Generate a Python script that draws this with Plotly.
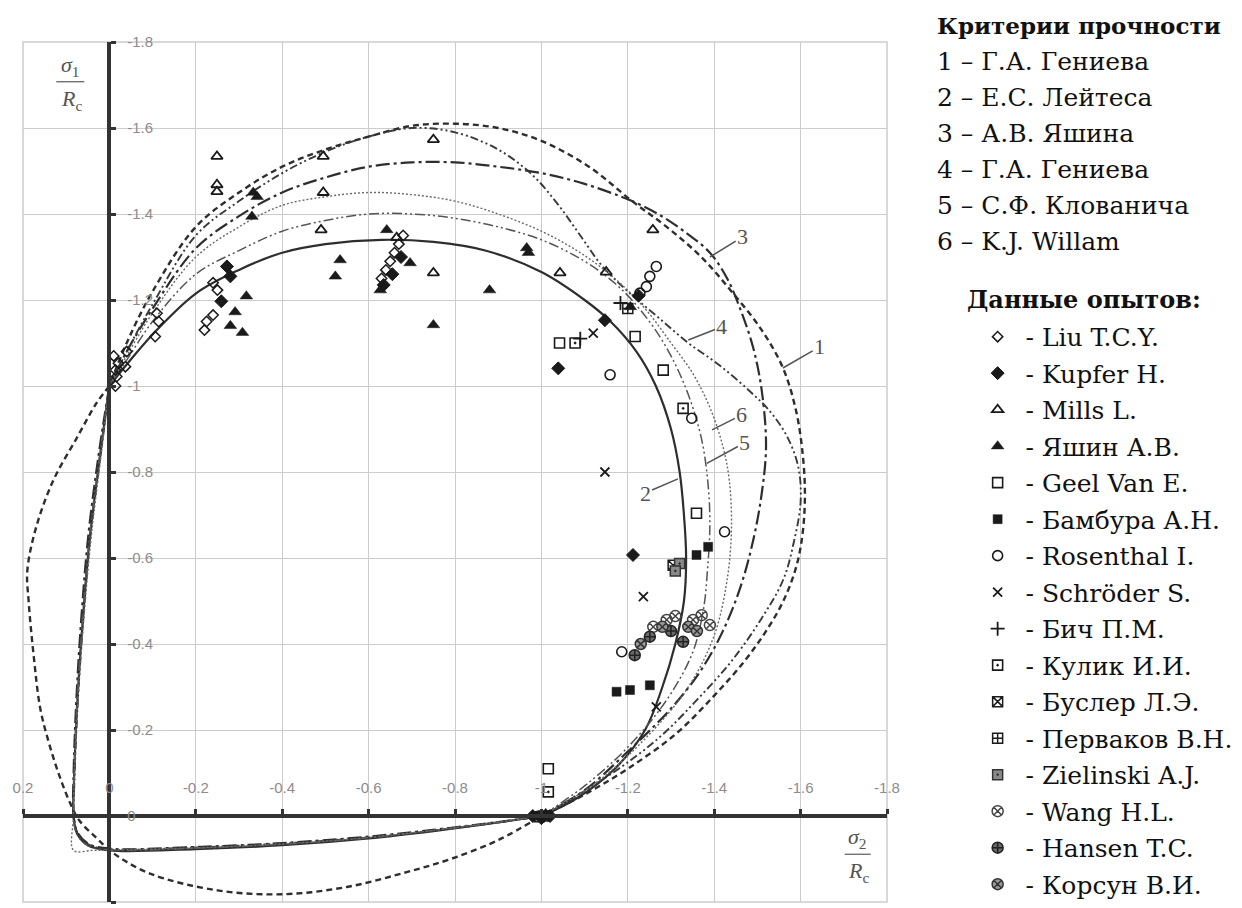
import plotly.graph_objects as go

# ---------------- axis ticks ----------------
TICK_VALS = [0.2, 0, -0.2, -0.4, -0.6, -0.8, -1.0, -1.2, -1.4, -1.6, -1.8]
TICK_TEXT = ["0.2", "0", "-0.2", "-0.4", "-0.6", "-0.8", "-1", "-1.2", "-1.4", "-1.6", "-1.8"]

# ---------------- legend texts ----------------
CRITERIA_TITLE = "Критерии прочности"
CRITERIA_NAMES = ["1 – Г.А. Гениева", "2 – Е.С. Лейтеса", "3 – А.В. Яшина",
                  "4 – Г.А. Гениева", "5 – С.Ф. Клованича", "6 – K.J. Willam"]
DATA_TITLE = "Данные опытов:"

# ---------------- strength criteria curves (sigma2/Rc, sigma1/Rc) ----------------
# curve 1 – Гениева (dashed)
C1_COMP_X = [-1.0, -1.1, -1.2, -1.31, -1.4, -1.47, -1.52, -1.56, -1.59, -1.605, -1.61, -1.605, -1.59, -1.56, -1.51, -1.44, -1.37, -1.29, -1.21, -1.11, -1.0, -0.9, -0.8, -0.7, -0.6, -0.5, -0.4, -0.3, -0.2, -0.1, -0.04, 0.0]
C1_COMP_Y = [0.0, -0.05, -0.11, -0.19, -0.28, -0.36, -0.43, -0.5, -0.58, -0.66, -0.75, -0.84, -0.94, -1.04, -1.13, -1.22, -1.3, -1.37, -1.43, -1.51, -1.57, -1.6, -1.61, -1.605, -1.58, -1.55, -1.51, -1.45, -1.37, -1.22, -1.1, -1.0]
C1_TENS_X = [0.0, 0.03, 0.075, 0.13, 0.17, 0.19, 0.187, 0.175, 0.16, 0.14, 0.118, 0.091, 0.07, 0.029, -0.01, -0.094, -0.25, -0.4, -0.55, -0.69, -0.79, -0.9, -1.0]
C1_TENS_Y = [-1.0, -0.96, -0.88, -0.78, -0.67, -0.57, -0.5, -0.37, -0.25, -0.17, -0.1, -0.03, 0.01, 0.052, 0.087, 0.134, 0.173, 0.182, 0.165, 0.13, 0.1, 0.056, 0.0]

# curve 2 – Лейтеса (solid)
C2_COMP_X = [-1.0, -1.08, -1.17, -1.24, -1.28, -1.31, -1.33, -1.335, -1.33, -1.32, -1.3, -1.265, -1.22, -1.16, -1.1, -1.0, -0.87, -0.75, -0.63, -0.5, -0.4, -0.3, -0.2, -0.1, -0.04, 0.0]
C2_COMP_Y = [0.0, -0.04, -0.11, -0.2, -0.3, -0.4, -0.5, -0.6, -0.7, -0.8, -0.9, -1.0, -1.08, -1.15, -1.2, -1.265, -1.315, -1.335, -1.34, -1.33, -1.31, -1.27, -1.215, -1.12, -1.05, -1.0]
C2_TENS_X = [0.0, 0.02, 0.045, 0.062, 0.075, 0.082, 0.083, 0.075, 0.05, 0.0, -0.2, -0.4, -0.6, -0.75, -0.9, -1.0]
C2_TENS_Y = [-1.0, -0.85, -0.65, -0.45, -0.25, -0.08, 0.0, 0.04, 0.068, 0.08, 0.077, 0.068, 0.052, 0.035, 0.015, 0.0]

# curve 3 – Яшина (long dash-dot)
C3_COMP_X = [-1.0, -1.1, -1.2, -1.3, -1.37, -1.42, -1.46, -1.49, -1.51, -1.52, -1.51, -1.49, -1.46, -1.43, -1.39, -1.33, -1.27, -1.21, -1.1, -1.0, -0.9, -0.8, -0.7, -0.6, -0.5, -0.4, -0.3, -0.2, -0.1, -0.04, 0.0]
C3_COMP_Y = [0.0, -0.06, -0.15, -0.25, -0.34, -0.43, -0.53, -0.64, -0.75, -0.86, -0.99, -1.09, -1.18, -1.25, -1.31, -1.36, -1.4, -1.43, -1.47, -1.495, -1.51, -1.52, -1.52, -1.51, -1.485, -1.45, -1.395, -1.32, -1.18, -1.08, -1.0]
C3_TENS_X = [0.0, 0.022, 0.048, 0.065, 0.077, 0.083, 0.083, 0.074, 0.048, 0.0, -0.2, -0.4, -0.6, -0.75, -0.9, -1.0]
C3_TENS_Y = [-1.0, -0.86, -0.66, -0.46, -0.26, -0.09, 0.0, 0.038, 0.065, 0.076, 0.072, 0.063, 0.048, 0.032, 0.014, 0.0]

# curve 4 – Гениева (dash-dot-dot)
C4_COMP_X = [-1.0, -1.15, -1.27, -1.36, -1.44, -1.51, -1.56, -1.585, -1.6, -1.595, -1.57, -1.53, -1.48, -1.41, -1.34, -1.27, -1.2, -1.14, -1.09, -1.04, -0.98, -0.9, -0.8, -0.7, -0.6, -0.5, -0.4, -0.3, -0.2, -0.1, -0.04, 0.0]
C4_COMP_Y = [0.0, -0.09, -0.18, -0.27, -0.36, -0.46, -0.55, -0.64, -0.73, -0.81, -0.88, -0.94, -0.99, -1.05, -1.1, -1.16, -1.22, -1.28, -1.35, -1.42, -1.49, -1.55, -1.59, -1.6, -1.58, -1.545, -1.495, -1.43, -1.35, -1.19, -1.08, -1.0]
C4_TENS_X = [0.0, 0.019, 0.044, 0.061, 0.074, 0.081, 0.082, 0.074, 0.049, 0.0, -0.2, -0.4, -0.6, -0.75, -0.9, -1.0]
C4_TENS_Y = [-1.0, -0.85, -0.65, -0.45, -0.25, -0.08, 0.0, 0.039, 0.066, 0.077, 0.073, 0.064, 0.05, 0.034, 0.015, 0.0]

# curve 5 – Клованича (thin dash-dot-dot)
C5_COMP_X = [-1.0, -1.1, -1.2, -1.29, -1.35, -1.375, -1.385, -1.39, -1.385, -1.37, -1.34, -1.3, -1.25, -1.18, -1.1, -1.0, -0.9, -0.8, -0.7, -0.6, -0.5, -0.4, -0.3, -0.2, -0.1, -0.04, 0.0]
C5_COMP_Y = [0.0, -0.07, -0.16, -0.27, -0.38, -0.48, -0.58, -0.68, -0.78, -0.88, -0.98, -1.07, -1.15, -1.23, -1.29, -1.34, -1.37, -1.39, -1.4, -1.4, -1.385, -1.36, -1.315, -1.26, -1.15, -1.06, -1.0]
C5_TENS_X = [0.0, 0.021, 0.046, 0.063, 0.076, 0.082, 0.083, 0.076, 0.05, 0.0, -0.2, -0.4, -0.6, -0.75, -0.9, -1.0]
C5_TENS_Y = [-1.0, -0.85, -0.65, -0.45, -0.25, -0.08, 0.0, 0.041, 0.069, 0.079, 0.075, 0.066, 0.051, 0.034, 0.015, 0.0]

# curve 6 – Willam (dotted, thin)
C6_COMP_X = [-1.0, -1.13, -1.25, -1.34, -1.4, -1.43, -1.44, -1.435, -1.42, -1.39, -1.35, -1.3, -1.24, -1.17, -1.09, -1.0, -0.9, -0.8, -0.7, -0.6, -0.5, -0.4, -0.3, -0.2, -0.1, -0.04, 0.0]
C6_COMP_Y = [0.0, -0.08, -0.19, -0.3, -0.42, -0.55, -0.67, -0.78, -0.86, -0.95, -1.03, -1.1, -1.18, -1.25, -1.31, -1.36, -1.4, -1.43, -1.445, -1.45, -1.44, -1.42, -1.37, -1.3, -1.17, -1.07, -1.0]
C6_TENS_X = [0.0, 0.018, 0.042, 0.06, 0.074, 0.082, 0.083, 0.083, 0.04, 0.0, -0.2, -0.4, -0.6, -0.75, -0.9, -1.0]
C6_TENS_Y = [-1.0, -0.85, -0.65, -0.45, -0.25, -0.08, 0.0, 0.08, 0.08, 0.079, 0.074, 0.065, 0.05, 0.033, 0.014, 0.0]

# curve label positions (text -> curve point)
LABELS = ["1", "2", "3", "4", "5", "6"]
LABEL_TEXT_X = [-1.644, -1.24, -1.466, -1.418, -1.471, -1.464]
LABEL_TEXT_Y = [-1.091, -0.751, -1.347, -1.138, -0.868, -0.933]
LABEL_PT_X = [-1.559, -1.316, -1.39, -1.34, -1.383, -1.395]
LABEL_PT_Y = [-1.042, -0.784, -1.30, -1.107, -0.82, -0.898]

# ---------------- experimental data ----------------
LIU_X = [-0.01, -0.021, -0.014, -0.037, -0.017, -0.014, -0.04, -0.11, -0.114, -0.106, -0.22, -0.225, -0.24, -0.24, -0.25, -0.63, -0.64, -0.65, -0.66, -0.67, -0.68]
LIU_Y = [-1.07, -1.053, -1.037, -1.045, -1.022, -1.0, -1.08, -1.169, -1.15, -1.115, -1.13, -1.15, -1.165, -1.24, -1.223, -1.25, -1.27, -1.29, -1.31, -1.33, -1.35]

KUPFER_X = [-0.259, -0.272, -0.28, -0.635, -0.655, -0.675, -1.039, -1.147, -1.212, -1.225, -0.98, -1.0, -1.02]
KUPFER_Y = [-1.197, -1.278, -1.255, -1.235, -1.26, -1.30, -1.041, -1.153, -0.607, -1.21, 0.0, 0.005, 0.0]

MILLS_X = [-0.249, -0.249, -0.249, -0.495, -0.495, -0.49, -0.75, -0.75, -1.043, -1.15, -1.258, -0.665]
MILLS_Y = [-1.534, -1.468, -1.452, -1.534, -1.45, -1.363, -1.573, -1.263, -1.263, -1.265, -1.363, -1.345]

YASHIN_X = [-0.333, -0.342, -0.33, -0.317, -0.291, -0.28, -0.308, -0.534, -0.523, -0.642, -0.696, -0.627, -0.966, -0.97, -0.88, -0.75, -1.206, -0.99, -1.01]
YASHIN_Y = [-1.45, -1.44, -1.394, -1.209, -1.172, -1.14, -1.124, -1.293, -1.255, -1.363, -1.286, -1.223, -1.321, -1.31, -1.223, -1.142, -1.184, 0.0, -0.005]

GEEL_X = [-1.217, -1.282, -1.359, -1.016, -1.042]
GEEL_Y = [-1.115, -1.037, -0.704, -0.11, -1.1]

BAMBURA_X = [-1.359, -1.386, -1.174, -1.205, -1.251]
BAMBURA_Y = [-0.607, -0.626, -0.289, -0.293, -0.304]

ROSENTHAL_X = [-1.266, -1.251, -1.243, -1.228, -1.159, -1.348, -1.424, -1.186]
ROSENTHAL_Y = [-1.278, -1.255, -1.231, -1.216, -1.026, -0.925, -0.661, -0.382]

SCHRODER_X = [-1.12, -1.147, -1.236, -1.266]
SCHRODER_Y = [-1.123, -0.8, -0.51, -0.254]

BICH_X = [-1.09, -1.183]
BICH_Y = [-1.11, -1.193]

KULIK_X = [-1.078, -1.328, -1.016]
KULIK_Y = [-1.1, -0.948, -0.056]

BUSLER_X = [-1.305, -1.005]
BUSLER_Y = [-0.583, 0.0]

PERVAKOV_X = [-1.2, -0.995]
PERVAKOV_Y = [-1.18, 0.002]

ZIELINSKI_X = [-1.32, -1.31]
ZIELINSKI_Y = [-0.587, -0.57]

WANG_X = [-1.259, -1.29, -1.31, -1.351, -1.371, -1.39]
WANG_Y = [-0.44, -0.456, -0.465, -0.456, -0.467, -0.444]

HANSEN_X = [-1.251, -1.216, -1.328, -1.3]
HANSEN_Y = [-0.417, -0.374, -0.405, -0.43]

KORSUN_X = [-1.28, -1.34, -1.36, -1.23]
KORSUN_Y = [-0.44, -0.44, -0.43, -0.40]

SERIES_NAMES = ["Liu T.C.Y.", "Kupfer H.", "Mills L.", "Яшин А.В.", "Geel Van E.", "Бамбура А.Н.",
                "Rosenthal I.", "Schröder S.", "Бич П.М.", "Кулик И.И.", "Буслер Л.Э.", "Перваков В.Н.",
                "Zielinski A.J.", "Wang H.L.", "Hansen T.C.", "Корсун В.И."]

# ---------------- figure ----------------
fig = go.Figure()

LINE_COLOR = "#2e2e2e"
curves = [
    (C1_COMP_X, C1_COMP_Y, C1_TENS_X, C1_TENS_Y, "6px,4px", 2.4, LINE_COLOR),
    (C2_COMP_X, C2_COMP_Y, C2_TENS_X, C2_TENS_Y, "solid", 2.2, LINE_COLOR),
    (C3_COMP_X, C3_COMP_Y, C3_TENS_X, C3_TENS_Y, "14px,4px,3px,4px", 2.2, LINE_COLOR),
    (C4_COMP_X, C4_COMP_Y, C4_TENS_X, C4_TENS_Y, "8px,3px,2px,3px,2px,3px", 1.9, "#3a3a3a"),
    (C5_COMP_X, C5_COMP_Y, C5_TENS_X, C5_TENS_Y, "10px,3px,2px,3px,2px,3px", 1.5, "#555555"),
    (C6_COMP_X, C6_COMP_Y, C6_TENS_X, C6_TENS_Y, "2px,2px", 1.4, "#6a6a6a"),
]
for cx, cy, tx, ty, dash, width, color in curves:
    fig.add_trace(go.Scatter(
        x=cx + [None] + tx, y=cy + [None] + ty, mode="lines",
        line=dict(shape="spline", smoothing=1.0, dash=dash, width=width, color=color),
        showlegend=False, hoverinfo="skip"))

MK = "#1a1a1a"
series = [
    (LIU_X, LIU_Y, dict(symbol="diamond-open", size=8, color=MK, line=dict(width=1.5, color=MK))),
    (KUPFER_X, KUPFER_Y, dict(symbol="diamond", size=10, color=MK, line=dict(width=1, color=MK))),
    (MILLS_X, MILLS_Y, dict(symbol="triangle-up-open", size=10, color=MK, line=dict(width=1.8, color=MK))),
    (YASHIN_X, YASHIN_Y, dict(symbol="triangle-up", size=11, color=MK, line=dict(width=0.5, color=MK))),
    (GEEL_X, GEEL_Y, dict(symbol="square-open", size=10, color=MK, line=dict(width=1.6, color=MK))),
    (BAMBURA_X, BAMBURA_Y, dict(symbol="square", size=9, color=MK, line=dict(width=0.5, color=MK))),
    (ROSENTHAL_X, ROSENTHAL_Y, dict(symbol="circle-open", size=10, color=MK, line=dict(width=1.6, color=MK))),
    (SCHRODER_X, SCHRODER_Y, dict(symbol="x-thin-open", size=9, color=MK, line=dict(width=1.8, color=MK))),
    (BICH_X, BICH_Y, dict(symbol="cross-thin-open", size=10, color=MK, line=dict(width=1.8, color=MK))),
    (KULIK_X, KULIK_Y, dict(symbol="square-open-dot", size=10, color=MK, line=dict(width=1.6, color=MK))),
    (BUSLER_X, BUSLER_Y, dict(symbol="square-x-open", size=10, color=MK, line=dict(width=1.5, color=MK))),
    (PERVAKOV_X, PERVAKOV_Y, dict(symbol="square-cross-open", size=10, color=MK, line=dict(width=1.5, color=MK))),
    (ZIELINSKI_X, ZIELINSKI_Y, dict(symbol="square-dot", size=10, color="#8a8a8a", line=dict(width=1.5, color="#333"))),
    (WANG_X, WANG_Y, dict(symbol="circle-x-open", size=11, color="#444", line=dict(width=1.5, color="#444"))),
    (HANSEN_X, HANSEN_Y, dict(symbol="circle-cross", size=11, color="#6a6a6a", line=dict(width=1.5, color="#222"))),
    (KORSUN_X, KORSUN_Y, dict(symbol="circle-x", size=11, color="#9a9a9a", line=dict(width=1.5, color="#333"))),
]
for i, (sx, sy, mk) in enumerate(series):
    fig.add_trace(go.Scatter(
        x=sx, y=sy, mode="markers", marker=mk, name="\u00a0- " + SERIES_NAMES[i],
        legendgroup="g%d" % i, hoverinfo="skip"))

# pixel -> paper helpers (plot area 864.6 x 859.4 px, origin at left=22.7, bottom=901.7)
def px_x(px):
    return (px - 22.7) / 864.6

def px_y(py):
    return (901.7 - py) / 859.4

TXT_FONT = "DejaVu Serif"
annotations = []
# criteria block
annotations.append(dict(x=px_x(935), y=px_y(26), xref="paper", yref="paper", xanchor="left", yanchor="middle",
                        text="<b>" + CRITERIA_TITLE + "</b>", showarrow=False,
                        font=dict(family=TXT_FONT, size=23, color="#111")))
for i, nm in enumerate(CRITERIA_NAMES):
    annotations.append(dict(x=px_x(935), y=px_y(62 + 36 * i), xref="paper", yref="paper", xanchor="left",
                            yanchor="middle", text=nm, showarrow=False,
                            font=dict(family=TXT_FONT, size=25, color="#111")))
annotations.append(dict(x=px_x(965), y=px_y(300), xref="paper", yref="paper", xanchor="left", yanchor="middle",
                        text="<b>" + DATA_TITLE + "</b>", showarrow=False,
                        font=dict(family=TXT_FONT, size=24, color="#111")))

# curve number labels with leaders
for i, lb in enumerate(LABELS):
    annotations.append(dict(x=LABEL_PT_X[i], y=LABEL_PT_Y[i], xref="x", yref="y",
                            ax=LABEL_TEXT_X[i], ay=LABEL_TEXT_Y[i], axref="x", ayref="y",
                            text=lb, showarrow=True, arrowhead=0, arrowwidth=1.6, arrowcolor="#555",
                            standoff=0, font=dict(family="Liberation Serif", size=22, color="#555")))

# axis titles (fractions)
frac = [("<i>σ</i><sub>1</sub>", 70, 66), ("<i>R</i><sub>c</sub>", 71, 100),
        ("<i>σ</i><sub>2</sub>", 858, 838), ("<i>R</i><sub>c</sub>", 859, 872)]
for t, fx, fy in frac:
    annotations.append(dict(x=px_x(fx), y=px_y(fy), xref="paper", yref="paper", xanchor="center",
                            yanchor="middle", showarrow=False, text=t,
                            font=dict(family="Liberation Serif", size=22, color="#555")))

shapes = [
    dict(type="rect", xref="paper", yref="paper", x0=0, y0=0, x1=1, y1=1,
         line=dict(color="#cccccc", width=1.5), layer="below"),
    dict(type="line", xref="paper", yref="paper", x0=px_x(56), x1=px_x(84), y0=px_y(82), y1=px_y(82),
         line=dict(color="#666", width=1.3)),
    dict(type="line", xref="paper", yref="paper", x0=px_x(845), x1=px_x(871), y0=px_y(854), y1=px_y(854),
         line=dict(color="#666", width=1.3)),
]

axis_common = dict(range=[0.2, -1.8], tickmode="array", tickvals=TICK_VALS, ticktext=TICK_TEXT,
                   showgrid=True, gridcolor="#cccccc", gridwidth=1.2, zeroline=False,
                   showline=True, linecolor="#333333", linewidth=3.5,
                   ticks="outside", ticklen=5, tickwidth=3, tickcolor="#333333",
                   tickfont=dict(family="Liberation Sans", size=15, color="#8c8c8c"),
                   anchor="free", position=0.1, fixedrange=True)

fig.update_xaxes(**axis_common, side="top", ticklabelstandoff=10)
fig.update_yaxes(**axis_common, side="right", ticklabelstandoff=8)

fig.update_layout(
    width=1242, height=908,
    margin=dict(l=23, r=355, t=42, b=6, autoexpand=False),
    paper_bgcolor="white", plot_bgcolor="white",
    showlegend=True,
    legend=dict(x=px_x(978), y=px_y(314), xanchor="left", yanchor="top",
                font=dict(family=TXT_FONT, size=25, color="#111"),
                tracegroupgap=1, bgcolor="rgba(0,0,0,0)"),
    annotations=annotations, shapes=shapes,
)

fig.write_html("out.html")
